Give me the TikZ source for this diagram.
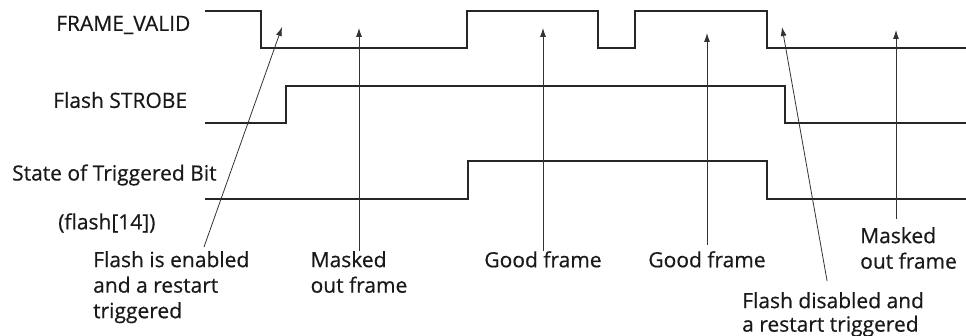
\documentclass[tikz,border=0pt]{standalone}
\usepackage{fontspec}
\setmainfont{Open Sans}
\newfontfamily\labelfont[FakeBold=0.5]{Open Sans}
\usetikzlibrary{arrows.meta}

\begin{document}
\begin{tikzpicture}[x=10pt,y=-10pt,
  signal/.style={line width=1.3pt,black!85},
  pointer/.style={line width=0.8pt,black!80,-{Latex[length=9pt,width=6pt]}},
  lbl/.style={font=\labelfont\fontsize{21}{25.5}\selectfont,text=black!90,inner sep=0pt},
  note/.style={lbl,align=left}]
\useasboundingbox (0,0) rectangle (96.6,33.6);

\draw[signal] (20.5,1.1) -- (26.1,1.1) -- (26.1,4.8) -- (46.7,4.8) -- (46.7,1.1) -- (59.8,1.1) -- (59.8,4.8) -- (63.5,4.8) -- (63.5,1.1) -- (76.7,1.1) -- (76.7,4.8) -- (96.6,4.8);
\draw[signal] (20.5,12.3) -- (28.6,12.3) -- (28.6,8.6) -- (78.5,8.6) -- (78.5,12.3) -- (96.6,12.3);
\draw[signal] (20.5,19.9) -- (46.8,19.9) -- (46.8,16.1) -- (76.7,16.1) -- (76.7,19.9) -- (96.6,19.9);

\node[lbl,anchor=west] (fv) at (5.6,2.5) {FRAME\_VALID};
\node[lbl,anchor=west] (strobe) at (5.3,10.0) {Flash STROBE};
\node[lbl,anchor=west] (trig) at (1.2,17.5) {State of Triggered Bit};
\node[lbl,anchor=west] (bit) at (5.8,22.3) {(flash[14])};

\coordinate (t1) at (28.2,2.7);
\coordinate (t2) at (35.9,2.8);
\coordinate (t3) at (54.3,2.8);
\coordinate (t4) at (70.7,3.3);
\coordinate (t5) at (78.2,2.7);
\coordinate (t6) at (89.6,3.0);

\node[note,anchor=north west] (fe) at (9.3,25.1) {Flash is enabled\\and a restart\\triggered};
\node[note,anchor=north] (mo1) at (35.9,25.1) {Masked\\out frame};
\node[note,anchor=north] (gf1) at (54.3,25.1) {Good frame};
\node[note,anchor=north] (gf2) at (70.7,25.1) {Good frame};
\node[note,anchor=north west] (mo2) at (86.0,22.7) {Masked\\out frame};
\node[note,anchor=north west,font=\labelfont\fontsize{21}{23.5}\selectfont] (fd) at (74.2,29.2) {Flash disabled and\\a restart triggered};

\draw[pointer] ([shift={(11.1,-0.4)}]fe.north west) -- (t1);
\draw[pointer] (mo1.north) -- (t2);
\draw[pointer] (gf1.north) -- (t3);
\draw[pointer] ([yshift=6pt]gf2.north) -- (t4);
\draw[pointer] ([yshift=8pt]mo2.north -| t6) -- (t6);
\draw[pointer] ([shift={(-0.6,-1.1)}]fd.north) -- (t5);
\end{tikzpicture}
\end{document}
